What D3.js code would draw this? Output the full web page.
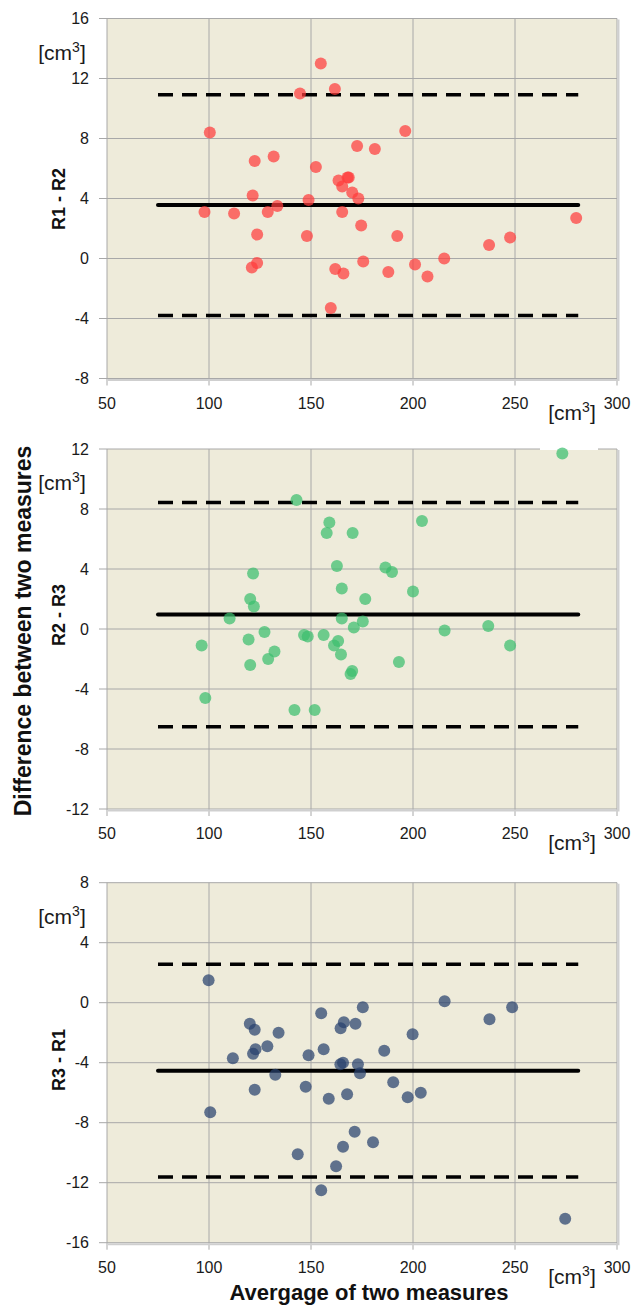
<!DOCTYPE html>
<html>
<head>
<meta charset="utf-8">
<script src="https://cdn.jsdelivr.net/npm/d3@7"></script>
<style>
  body { margin: 0; background: #fff; }
  svg { display: block; }
  .tick-label { font-family: "Liberation Sans", Arial, sans-serif; font-size: 16px; fill: #1a1a1a; }
  .unit { font-family: "Liberation Sans", Arial, sans-serif; font-size: 21px; fill: #1a1a1a; }
  .bold-label { font-family: "Liberation Sans", Arial, sans-serif; font-weight: bold; fill: #111; }
</style>
</head>
<body>
<div id="chart"></div>
<script>
// data: [average, difference]
const xTicks = [50, 100, 150, 200, 250, 300];
const lineRange = [75, 281];

const r1r2Points = [
  [154.8, 13.0], [161.7, 11.3], [144.6, 11.0], [100.4, 8.4], [196.2, 8.5],
  [172.6, 7.5], [181.3, 7.3], [131.7, 6.8], [122.4, 6.5], [152.4, 6.1],
  [163.5, 5.2], [167.9, 5.4], [168.5, 5.4], [165.3, 4.8], [170.2, 4.4],
  [173.2, 4.0], [121.4, 4.2], [148.8, 3.9], [133.5, 3.5], [97.8, 3.1],
  [112.3, 3.0], [128.8, 3.1], [165.3, 3.1], [174.6, 2.2], [123.6, 1.6],
  [148.0, 1.5], [192.3, 1.5], [237.3, 0.9], [247.6, 1.4], [280.0, 2.7],
  [215.3, 0.0], [175.6, -0.2], [123.6, -0.3], [121.0, -0.6], [161.9, -0.7],
  [165.9, -1.0], [187.9, -0.9], [201.0, -0.4], [207.1, -1.2], [159.7, -3.3]
];
const r1r2Lines = [10.92, 3.56, -3.80];   // upper LoA, mean, lower LoA
const r1r2Ticks = [-8, -4, 0, 4, 8, 12, 16];

const r2r3Points = [
  [273.2, 11.7], [142.9, 8.6], [159.0, 7.1], [157.7, 6.4], [170.4, 6.4],
  [204.4, 7.2], [162.7, 4.2], [186.5, 4.1], [189.7, 3.8], [121.6, 3.7],
  [165.1, 2.7], [200.0, 2.5], [176.6, 2.0], [120.2, 2.0], [122.0, 1.5],
  [110.1, 0.7], [165.1, 0.7], [175.4, 0.5], [171.0, 0.1], [215.5, -0.1],
  [236.9, 0.2], [127.2, -0.2], [146.6, -0.4], [148.4, -0.5], [156.2, -0.4],
  [119.4, -0.7], [96.4, -1.1], [163.3, -0.8], [161.3, -1.1], [247.6, -1.1],
  [132.1, -1.5], [164.7, -1.7], [129.0, -2.0], [120.2, -2.4], [193.1, -2.2],
  [170.2, -2.8], [169.4, -3.0], [98.2, -4.6], [141.9, -5.4], [151.8, -5.4]
];
const r2r3Lines = [8.44, 0.96, -6.51];
const r2r3Ticks = [-12, -8, -4, 0, 4, 8, 12];

const r3r1Points = [
  [99.8, 1.5], [215.5, 0.1], [175.4, -0.3], [248.6, -0.3], [155.0, -0.7],
  [237.5, -1.1], [120.0, -1.4], [122.4, -1.8], [166.1, -1.3], [171.8, -1.4],
  [164.5, -1.7], [134.1, -2.0], [199.8, -2.1], [128.6, -2.9], [122.8, -3.1],
  [121.6, -3.4], [156.2, -3.1], [185.9, -3.2], [148.8, -3.5], [111.7, -3.7],
  [164.4, -4.1], [165.7, -4.0], [173.0, -4.1], [174.0, -4.7], [132.5, -4.8],
  [190.3, -5.3], [122.4, -5.8], [147.4, -5.6], [158.7, -6.4], [167.7, -6.1],
  [197.4, -6.3], [203.8, -6.0], [100.6, -7.3], [171.4, -8.6], [180.4, -9.3],
  [165.7, -9.6], [143.5, -10.1], [162.3, -10.9], [155.0, -12.5], [274.6, -14.4]
];
const r3r1Lines = [2.56, -4.53, -11.62];
const r3r1Ticks = [-16, -12, -8, -4, 0, 4, 8];

const W = 634, H = 1305;
const plotLeft = 107, plotRight = 617, plotH = 360;

const svg = d3.select("#chart").append("svg")
  .attr("width", W)
  .attr("height", H);

const x = d3.scaleLinear().domain([50, 300]).range([plotLeft, plotRight]);

function drawPanel(top, yTicks, label, labelY) {
  const y = d3.scaleLinear()
    .domain(d3.extent(yTicks))
    .range([top + plotH, top]);

  const g = svg.append("g");

  // background
  g.append("rect")
    .attr("x", plotLeft)
    .attr("y", top)
    .attr("width", plotRight - plotLeft)
    .attr("height", plotH)
    .attr("fill", "#eeebda");

  // grid
  g.selectAll(".hgrid")
    .data(yTicks)
    .join("line")
      .attr("x1", plotLeft - 8)
      .attr("x2", plotRight)
      .attr("y1", d => y(d))
      .attr("y2", d => y(d))
      .attr("stroke", "#a8a8a8")
      .attr("stroke-width", 1);

  g.selectAll(".vgrid")
    .data(xTicks)
    .join("line")
      .attr("x1", d => x(d))
      .attr("x2", d => x(d))
      .attr("y1", top)
      .attr("y2", top + plotH + 7)
      .attr("stroke", "#a8a8a8")
      .attr("stroke-width", 1);

  // shadow on right and bottom edge
  g.append("path")
    .attr("d", `M${plotRight + 1.5},${top + 1}V${top + plotH + 1.5}H${plotLeft + 1}`)
    .attr("fill", "none")
    .attr("stroke", "#cfcfcf")
    .attr("stroke-width", 2);

  // y tick labels
  g.selectAll(".ylab")
    .data(yTicks)
    .join("text")
      .attr("class", "tick-label")
      .attr("x", 89)
      .attr("y", d => y(d))
      .attr("dy", "0.35em")
      .attr("text-anchor", "end")
      .text(d => d);

  // x tick labels
  g.selectAll(".xlab")
    .data(xTicks)
    .join("text")
      .attr("class", "tick-label")
      .attr("x", d => x(d))
      .attr("y", top + plotH + 30)
      .attr("text-anchor", "middle")
      .text(d => d);

  // units
  const uy = g.append("text")
    .attr("class", "unit")
    .attr("x", 62)
    .attr("y", top + 41)
    .attr("text-anchor", "middle");
  uy.append("tspan").text("[cm");
  uy.append("tspan").attr("font-size", "14px").attr("dy", "-8").text("3");
  uy.append("tspan").attr("dy", "8").text("]");

  const ux = g.append("text")
    .attr("class", "unit")
    .attr("x", 572)
    .attr("y", top + plotH + 41)
    .attr("text-anchor", "middle");
  ux.append("tspan").text("[cm");
  ux.append("tspan").attr("font-size", "14px").attr("dy", "-8").text("3");
  ux.append("tspan").attr("dy", "8").text("]");

  // panel label
  g.append("text")
    .attr("class", "bold-label")
    .attr("font-size", "18px")
    .attr("transform", `translate(65,${labelY}) rotate(-90)`)
    .attr("text-anchor", "middle")
    .text(label);

  return {g, y};
}

function drawMarks(panel, points, lines, color) {
  const {g, y} = panel;

  // limits of agreement
  [lines[0], lines[2]].forEach(v => {
    g.append("line")
      .attr("x1", x(lineRange[0]))
      .attr("x2", x(lineRange[1]))
      .attr("y1", y(v))
      .attr("y2", y(v))
      .attr("stroke", "#000")
      .attr("stroke-width", 3.5)
      .attr("stroke-dasharray", "15 9");
  });

  // mean
  g.append("line")
    .attr("x1", x(lineRange[0]))
    .attr("x2", x(lineRange[1]))
    .attr("y1", y(lines[1]))
    .attr("y2", y(lines[1]))
    .attr("stroke", "#000")
    .attr("stroke-width", 4)
    .attr("stroke-linecap", "round");

  g.selectAll(".dot")
    .data(points)
    .join("circle")
      .attr("cx", d => x(d[0]))
      .attr("cy", d => y(d[1]))
      .attr("r", 6)
      .attr("fill", color)
      .attr("fill-opacity", 0.72);
}

const p1 = drawPanel(18.5, r1r2Ticks, "R1 - R2", 199);
drawMarks(p1, r1r2Points, r1r2Lines, "#ff3c3c");

const p2 = drawPanel(449, r2r3Ticks, "R2 - R3", 615);
// white label box clipping the top border
p2.g.append("rect")
  .attr("x", 540)
  .attr("y", 447)
  .attr("width", 58)
  .attr("height", 3)
  .attr("fill", "#fff");
drawMarks(p2, r2r3Points, r2r3Lines, "#3cbe6e");

const p3 = drawPanel(882.7, r3r1Ticks, "R3 - R1", 1060);
drawMarks(p3, r3r1Points, r3r1Lines, "#28416e");

// shared axis titles
svg.append("text")
  .attr("class", "bold-label")
  .attr("font-size", "23px")
  .attr("transform", "translate(31,631) rotate(-90)")
  .attr("text-anchor", "middle")
  .text("Difference between two measures");

svg.append("text")
  .attr("class", "bold-label")
  .attr("font-size", "22px")
  .attr("x", 369)
  .attr("y", 1300)
  .attr("text-anchor", "middle")
  .text("Avergage of two measures");
</script>
</body>
</html>
